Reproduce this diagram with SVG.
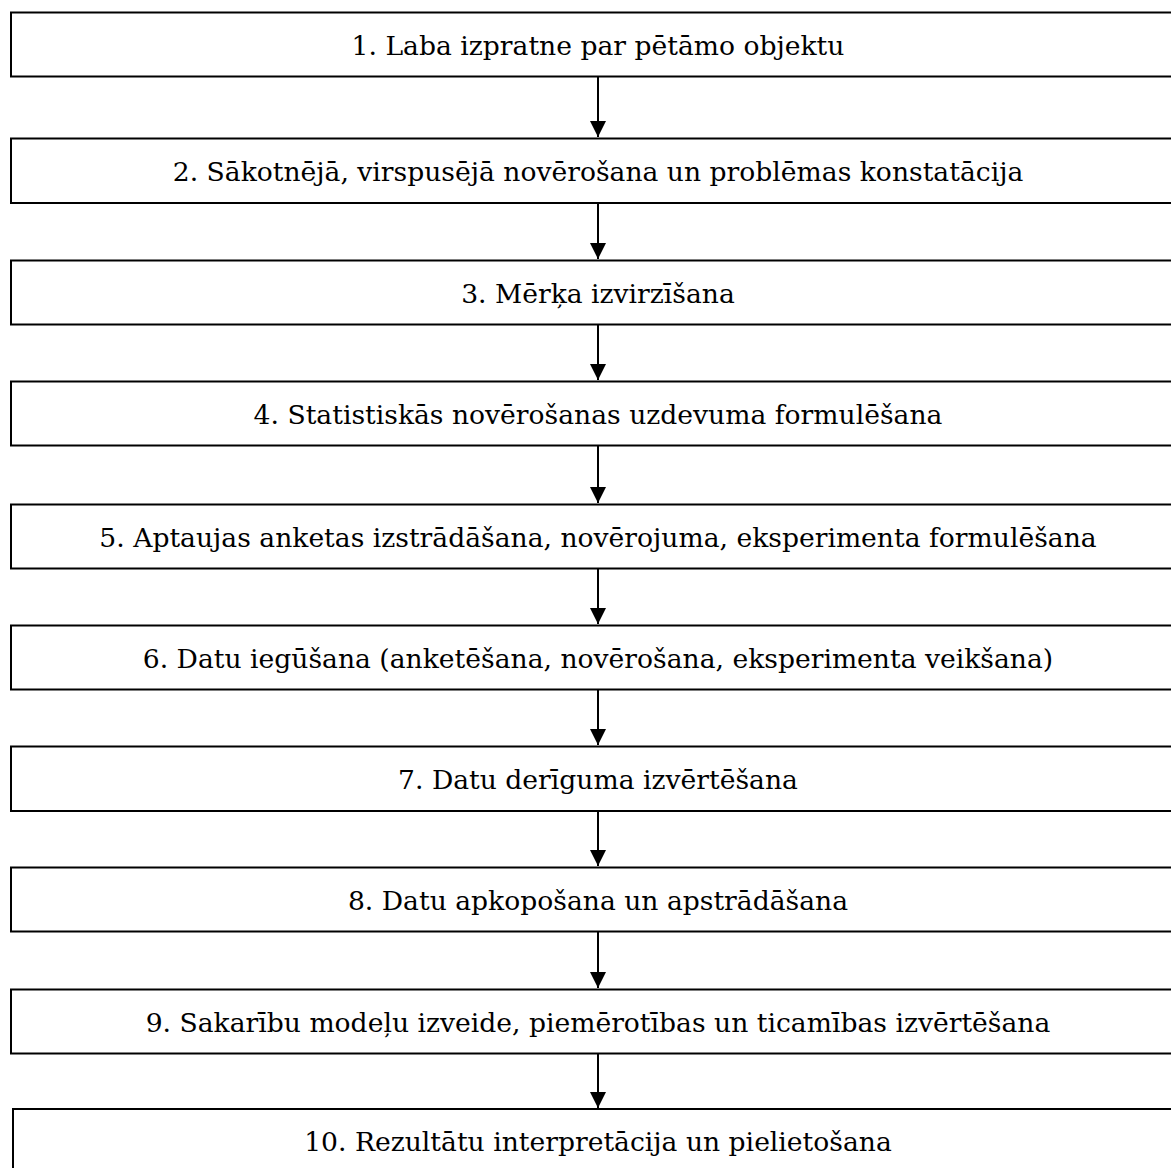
<svg xmlns="http://www.w3.org/2000/svg" width="1171" height="1168" viewBox="0 0 1171 1168">
<style>
.box{fill:#fff;stroke:#000;stroke-width:2}
.lbl{font-family:"DejaVu Serif","Liberation Serif",serif;font-size:26.6px;fill:#000;text-anchor:middle;dominant-baseline:central}
.arr{stroke:#000;stroke-width:2;fill:none}
</style>
<defs>
<marker id="ah" markerWidth="18" markerHeight="18" refX="16" refY="8" orient="auto" markerUnits="userSpaceOnUse" viewBox="0 0 18 18">
<path d="M0,0 L16,8 L0,16 Z" fill="#000"/>
</marker>
</defs>
<rect width="1171" height="1168" fill="#fff"/>
<g id="connectors">
<line class="arr" x1="598" y1="77" x2="598" y2="137" marker-end="url(#ah)"/>
<line class="arr" x1="598" y1="204" x2="598" y2="259" marker-end="url(#ah)"/>
<line class="arr" x1="598" y1="325" x2="598" y2="380" marker-end="url(#ah)"/>
<line class="arr" x1="598" y1="446" x2="598" y2="503" marker-end="url(#ah)"/>
<line class="arr" x1="598" y1="569" x2="598" y2="624" marker-end="url(#ah)"/>
<line class="arr" x1="598" y1="690" x2="598" y2="745" marker-end="url(#ah)"/>
<line class="arr" x1="598" y1="812" x2="598" y2="866" marker-end="url(#ah)"/>
<line class="arr" x1="598" y1="932" x2="598" y2="988" marker-end="url(#ah)"/>
<line class="arr" x1="598" y1="1054" x2="598" y2="1108" marker-end="url(#ah)"/>
</g>
<g id="n1"><rect class="box" x="11" y="12.5" width="1180" height="64"/><text class="lbl" x="598" y="45">1. Laba izpratne par pētāmo objektu</text></g>
<g id="n2"><rect class="box" x="11" y="138.5" width="1180" height="64.5"/><text class="lbl" x="598" y="171">2. Sākotnējā, virspusējā novērošana un problēmas konstatācija</text></g>
<g id="n3"><rect class="box" x="11" y="260.5" width="1180" height="64"/><text class="lbl" x="598" y="293">3. Mērķa izvirzīšana</text></g>
<g id="n4"><rect class="box" x="11" y="381.5" width="1180" height="64"/><text class="lbl" x="598" y="414">4. Statistiskās novērošanas uzdevuma formulēšana</text></g>
<g id="n5"><rect class="box" x="11" y="504.5" width="1180" height="64"/><text class="lbl" x="598" y="537">5. Aptaujas anketas izstrādāšana, novērojuma, eksperimenta formulēšana</text></g>
<g id="n6"><rect class="box" x="11" y="625.5" width="1180" height="64"/><text class="lbl" x="598" y="658">6. Datu iegūšana (anketēšana, novērošana, eksperimenta veikšana)</text></g>
<g id="n7"><rect class="box" x="11" y="746.5" width="1180" height="64.5"/><text class="lbl" x="598" y="779">7. Datu derīguma izvērtēšana</text></g>
<g id="n8"><rect class="box" x="11" y="867.5" width="1180" height="64"/><text class="lbl" x="598" y="900">8. Datu apkopošana un apstrādāšana</text></g>
<g id="n9"><rect class="box" x="11" y="989.5" width="1180" height="64"/><text class="lbl" x="598" y="1022">9. Sakarību modeļu izveide, piemērotības un ticamības izvērtēšana</text></g>
<g id="n10"><rect class="box" x="13" y="1109" width="1180" height="80"/><text class="lbl" x="598" y="1141">10. Rezultātu interpretācija un pielietošana</text></g>
</svg>
